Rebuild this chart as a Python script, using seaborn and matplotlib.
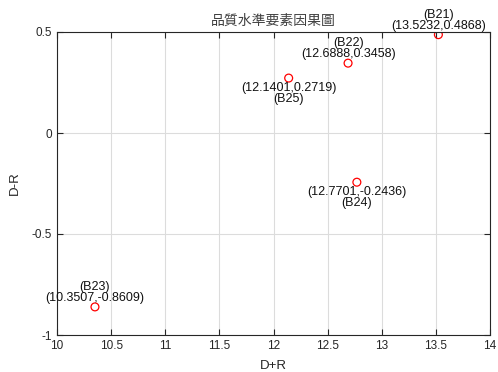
import matplotlib
matplotlib.use('Agg')
import matplotlib.pyplot as plt
import seaborn as sns

# Cause-effect data (D+R, D-R)
names = ['B21', 'B22', 'B23', 'B24', 'B25']
d_plus_r = [13.5232, 12.6888, 10.3507, 12.7701, 12.1401]
d_minus_r = [0.4868, 0.3458, -0.8609, -0.2436, 0.2719]
label_above = [True, True, True, False, False]

sns.set_style('white')
plt.rcParams['font.family'] = ['Liberation Sans', 'Noto Sans CJK TC', 'DejaVu Sans']

fig = plt.figure(figsize=(4.98, 3.72), dpi=100)
ax = fig.add_axes([57 / 498, 1 - 335 / 372, (490 - 57) / 498, (335 - 32) / 372])

sns.scatterplot(x=d_plus_r, y=d_minus_r, ax=ax, marker='o', s=32,
                facecolors='none', edgecolor='red', linewidth=0.9)

for n, x, y, up in zip(names, d_plus_r, d_minus_r, label_above):
    coord = f'({x:.4f},{y:.4f})'
    if up:
        ax.annotate(coord, (x, y), xytext=(0, 2), textcoords='offset points',
                    ha='center', va='bottom', fontsize=9, color='#111111')
        ax.annotate(f'({n})', (x, y), xytext=(0, 10), textcoords='offset points',
                    ha='center', va='bottom', fontsize=9, color='#111111')
    else:
        ax.annotate(coord, (x, y), xytext=(0, -3), textcoords='offset points',
                    ha='center', va='top', fontsize=9, color='#111111')
        ax.annotate(f'({n})', (x, y), xytext=(0, -11), textcoords='offset points',
                    ha='center', va='top', fontsize=9, color='#111111')

ax.set_xlim(10, 14)
ax.set_ylim(-1, 0.5)
ax.set_xticks([10, 10.5, 11, 11.5, 12, 12.5, 13, 13.5, 14])
ax.set_xticklabels(['10', '10.5', '11', '11.5', '12', '12.5', '13', '13.5', '14'])
ax.set_yticks([-1, -0.5, 0, 0.5])
ax.set_yticklabels(['-1', '-0.5', '0', '0.5'])
ax.grid(True, color='#dcdcdc', linewidth=0.8)
ax.set_axisbelow(True)
ax.tick_params(direction='in', length=4, labelsize=8.5, colors='#262626',
               top=True, right=True, bottom=True, left=True)
for sp in ax.spines.values():
    sp.set_color('#262626')
    sp.set_linewidth(0.8)

ax.set_xlabel('D+R', fontsize=9.5, color='#262626', labelpad=6)
ax.set_ylabel('D-R', fontsize=9.5, color='#262626', labelpad=8)
ax.set_title('品質水準要素因果圖', fontsize=10, color='#404040', pad=5,
             family=['Noto Sans CJK TC', 'DejaVu Sans'])

fig.savefig('out.png', dpi=100)
